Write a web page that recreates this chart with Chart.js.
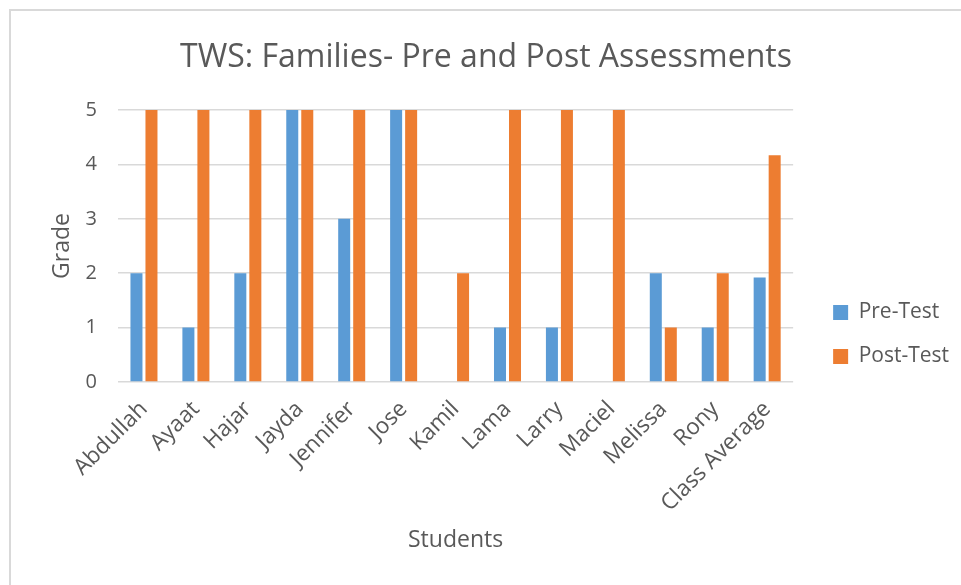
<!DOCTYPE html>
<html>
<head>
<meta charset="utf-8">
<script src="https://cdn.jsdelivr.net/npm/chart.js@4/dist/chart.umd.min.js"></script>
<style>
  html, body { margin: 0; padding: 0; background: #fff; }
  #wrap { position: relative; width: 961px; height: 585px; overflow: hidden; }
  #frame { position: absolute; left: 9px; top: 9px; width: 1000px; height: 700px;
           border-top: 2px solid #d9d9d9; border-left: 2px solid #d9d9d9; }
  canvas { position: absolute; left: 0; top: 0; }
</style>
</head>
<body>
<div id="wrap">
  <div id="frame"></div>
  <canvas id="c" width="961" height="585"></canvas>
</div>
<script>
const students = ["Abdullah", "Ayaat", "Hajar", "Jayda", "Jennifer", "Jose", "Kamil", "Lama", "Larry", "Maciel", "Melissa", "Rony", "Class Average"];
const preTest = [2, 1, 2, 5, 3, 5, 0, 1, 1, 0, 2, 1, 1.92];
const postTest = [5, 5, 5, 5, 5, 5, 2, 5, 5, 5, 1, 2, 4.17];
const seriesNames = ["Pre-Test", "Post-Test"];
const yTicks = [0, 1, 2, 3, 4, 5];

const FONT = "'Open Sans', 'Noto Sans', sans-serif";
const TXT = "#595959";

const legendShift = {
  id: "legendShift",
  afterLayout(chart) {
    const lg = chart.legend;
    if (lg) { lg.left += 17; lg.right += 17; lg.top += 42; lg.bottom += 42; }
  }
};

new Chart(document.getElementById("c"), {
  type: "bar",
  data: {
    labels: students,
    datasets: [
      { label: seriesNames[0], data: preTest, backgroundColor: "#5B9BD5",
        categoryPercentage: 0.578, barPercentage: 0.8 },
      { label: seriesNames[1], data: postTest, backgroundColor: "#ED7D31",
        categoryPercentage: 0.578, barPercentage: 0.8 }
    ]
  },
  plugins: [legendShift],
  options: {
    responsive: false,
    animation: false,
    layout: { padding: { left: 30, right: 19, top: 0, bottom: 0 } },
    plugins: {
      tooltip: { enabled: false },
      title: {
        display: true,
        text: "TWS: Families- Pre and Post Assessments",
        color: TXT,
        font: { family: FONT, size: 32, weight: "normal" },
        padding: { top: 39, bottom: 32.6 }
      },
      legend: {
        position: "right",
        align: "center",
        labels: {
          color: TXT,
          font: { family: FONT, size: 21 },
          boxWidth: 15, boxHeight: 15,
          padding: 23
        }
      }
    },
    scales: {
      x: {
        afterFit: (s) => { s.height = 203; },
        grid: { display: false },
        border: { display: false },
        ticks: {
          color: TXT, font: { family: FONT, size: 22.5 },
          minRotation: 45, maxRotation: 45, padding: 6, autoSkip: false
        },
        title: {
          display: true, text: "Students", color: TXT,
          font: { family: FONT, size: 23 }, padding: { top: 0, bottom: 31 }
        }
      },
      y: {
        min: 0, max: 5,
        afterFit: (s) => { s.width = 88; },
        afterBuildTicks: (s) => { s.ticks = yTicks.map(v => ({ value: v })); },
        grid: { color: "#d9d9d9", lineWidth: 1.5, drawTicks: false },
        border: { display: false },
        ticks: { color: TXT, font: { family: FONT, size: 20 }, padding: 21 },
        title: {
          display: true, text: "Grade", color: TXT,
          font: { family: FONT, size: 23 }, padding: { top: 19, bottom: 0 }
        }
      }
    }
  }
});
</script>
</body>
</html>
